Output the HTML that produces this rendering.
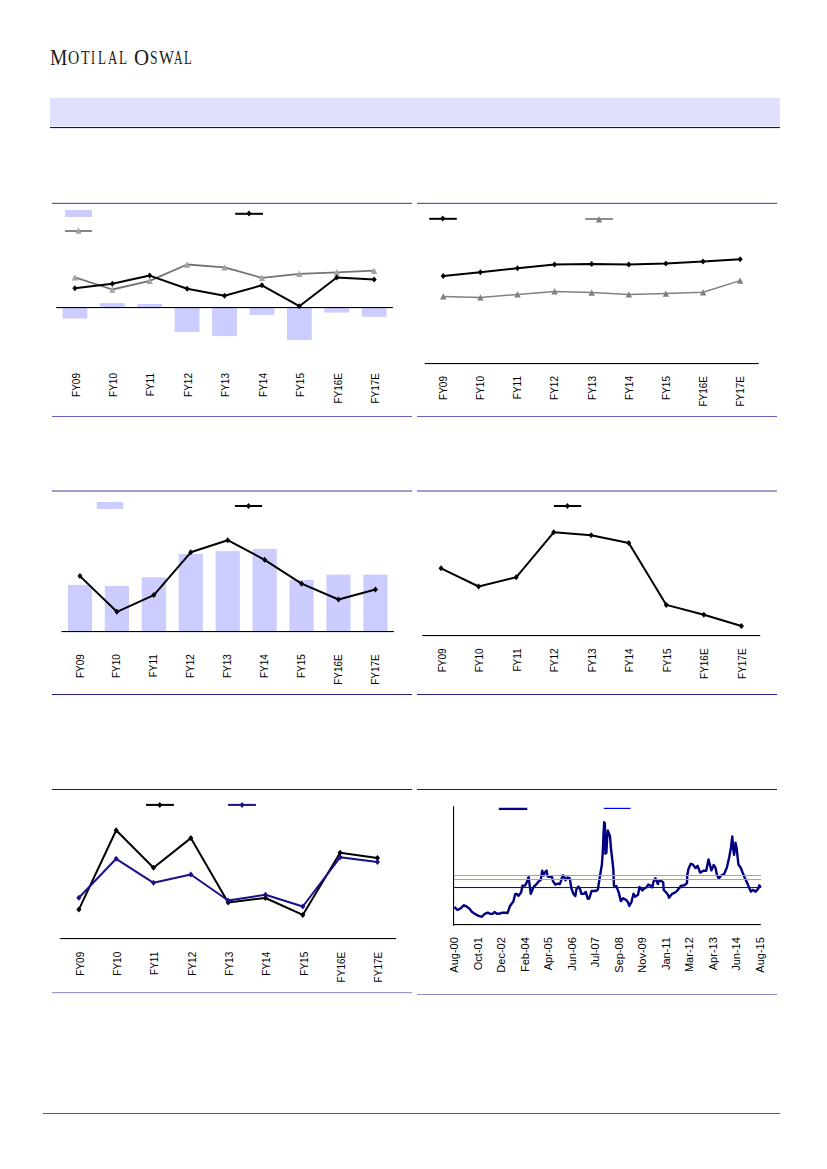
<!DOCTYPE html>
<html><head><meta charset="utf-8"><title>Motilal Oswal</title>
<style>
html,body{margin:0;padding:0;background:#fff;}
body{width:827px;height:1169px;position:relative;overflow:hidden;font-family:"Liberation Sans",sans-serif;}
.logo{position:absolute;left:0;top:47px;font-family:"Liberation Serif",serif;color:#1a1a1a;white-space:nowrap;line-height:1;font-kerning:none;}
.logo span{position:absolute;top:0;transform-origin:0 0;}
svg{position:absolute;left:0;top:0;}
svg text{font-family:"Liberation Sans",sans-serif;}
</style></head>
<body>
<div class="logo"><span style="left:49.60px;font-size:22.5px;transform:scaleX(0.863)">M</span><span style="left:68.20px;top:3.4px;font-size:17.8px;transform:scaleX(0.875)">O</span><span style="left:81.00px;top:3.4px;font-size:17.8px;transform:scaleX(0.791)">T</span><span style="left:90.80px;top:3.4px;font-size:17.8px;transform:scaleX(0.680)">I</span><span style="left:98.20px;top:3.4px;font-size:17.8px;transform:scaleX(0.740)">L</span><span style="left:107.80px;top:3.4px;font-size:17.8px;transform:scaleX(0.725)">A</span><span style="left:118.60px;top:3.4px;font-size:17.8px;transform:scaleX(0.740)">L</span><span style="left:133.80px;font-size:22.5px;transform:scaleX(0.927)">O</span><span style="left:150.20px;top:3.4px;font-size:17.8px;transform:scaleX(0.762)">S</span><span style="left:158.60px;top:3.4px;font-size:17.8px;transform:scaleX(0.894)">W</span><span style="left:173.80px;top:3.4px;font-size:17.8px;transform:scaleX(0.654)">A</span><span style="left:184.20px;top:3.4px;font-size:17.8px;transform:scaleX(0.720)">L</span></div>
<svg width="827" height="1169" viewBox="0 0 827 1169">
<rect x="50" y="98" width="730" height="28" fill="#dfdffe"/>
<rect x="50" y="126" width="730" height="1" fill="#f3f3ff"/>
<rect x="50" y="127" width="730" height="1.1" fill="#170b82"/>
<rect x="52" y="202.8" width="360" height="1.2" fill="#5f50af"/>
<rect x="417" y="202.8" width="360" height="1.2" fill="#5f50af"/>
<rect x="52" y="416" width="360" height="1" fill="#6c5db8"/>
<rect x="417" y="416" width="360" height="1" fill="#6c5db8"/>
<rect x="52" y="490" width="360" height="2" fill="#a59bcf"/>
<rect x="417" y="490" width="360" height="2" fill="#a59bcf"/>
<rect x="52" y="694" width="360" height="1" fill="#2a1c8c"/>
<rect x="417" y="694" width="360" height="1" fill="#2a1c8c"/>
<rect x="52" y="789" width="360" height="1" fill="#1e1090"/>
<rect x="417" y="789" width="360" height="1" fill="#1e1090"/>
<rect x="52" y="992" width="360" height="1.2" fill="#9d94cc"/>
<rect x="417" y="994" width="360" height="1" fill="#958bc8"/>
<rect x="43" y="1113" width="737" height="1" fill="#4c4cc0"/>
<rect x="62.5" y="307.3" width="24.8" height="11.3" fill="#ccccff"/>
<rect x="99.91" y="303" width="24.8" height="4.3" fill="#ccccff"/>
<rect x="137.31" y="304" width="24.8" height="3.3" fill="#ccccff"/>
<rect x="174.72" y="307.3" width="24.8" height="24.7" fill="#ccccff"/>
<rect x="212.13" y="307.3" width="24.8" height="28.8" fill="#ccccff"/>
<rect x="249.53" y="307.3" width="24.8" height="7.7" fill="#ccccff"/>
<rect x="286.94" y="307.3" width="24.8" height="32.7" fill="#ccccff"/>
<rect x="324.34" y="307.3" width="24.8" height="5.3" fill="#ccccff"/>
<rect x="361.75" y="307.3" width="24.8" height="9.5" fill="#ccccff"/>
<rect x="56.2" y="307" width="336.65" height="1.1" fill="#000"/>
<polyline points="74.9,277.4 112.31,289.5 149.71,280.8 187.12,264.5 224.53,267.4 261.93,277.8 299.34,273.8 336.74,272.3 374.15,270.7" fill="none" stroke="#737373" stroke-width="1.8" stroke-linejoin="round"/>
<path d="M74.9 274.2L78.1 280.6L71.7 280.6Z" fill="#a3a3a3"/>
<path d="M112.31 286.3L115.51 292.7L109.11 292.7Z" fill="#a3a3a3"/>
<path d="M149.71 277.6L152.91 284L146.51 284Z" fill="#a3a3a3"/>
<path d="M187.12 261.3L190.32 267.7L183.92 267.7Z" fill="#a3a3a3"/>
<path d="M224.53 264.2L227.73 270.6L221.33 270.6Z" fill="#a3a3a3"/>
<path d="M261.93 274.6L265.13 281L258.73 281Z" fill="#a3a3a3"/>
<path d="M299.34 270.6L302.54 277L296.14 277Z" fill="#a3a3a3"/>
<path d="M336.74 269.1L339.94 275.5L333.54 275.5Z" fill="#a3a3a3"/>
<path d="M374.15 267.5L377.35 273.9L370.95 273.9Z" fill="#a3a3a3"/>
<polyline points="74.9,288.3 112.31,283.8 149.71,275.6 187.12,288.7 224.53,295.7 261.93,285.3 299.34,306.2 336.74,277.5 374.15,279.5" fill="none" stroke="#000" stroke-width="2" stroke-linejoin="round"/>
<path d="M74.9 285.3L77.45 288.3L74.9 291.3L72.35 288.3Z" fill="#000"/>
<path d="M112.31 280.8L114.86 283.8L112.31 286.8L109.76 283.8Z" fill="#000"/>
<path d="M149.71 272.6L152.26 275.6L149.71 278.6L147.16 275.6Z" fill="#000"/>
<path d="M187.12 285.7L189.67 288.7L187.12 291.7L184.57 288.7Z" fill="#000"/>
<path d="M224.53 292.7L227.08 295.7L224.53 298.7L221.98 295.7Z" fill="#000"/>
<path d="M261.93 282.3L264.48 285.3L261.93 288.3L259.38 285.3Z" fill="#000"/>
<path d="M299.34 303.2L301.89 306.2L299.34 309.2L296.79 306.2Z" fill="#000"/>
<path d="M336.74 274.5L339.29 277.5L336.74 280.5L334.19 277.5Z" fill="#000"/>
<path d="M374.15 276.5L376.7 279.5L374.15 282.5L371.6 279.5Z" fill="#000"/>
<rect x="65" y="210" width="27" height="7" fill="#ccccff"/>
<line x1="65" y1="231" x2="92" y2="231" stroke="#777" stroke-width="1.8"/>
<path d="M78.5 227.3L81.7 233.7L75.3 233.7Z" fill="#a3a3a3"/>
<line x1="235.2" y1="213.8" x2="263" y2="213.8" stroke="#000" stroke-width="2"/>
<path d="M249 210.4L251.55 213.4L249 216.4L246.45 213.4Z" fill="#000"/>
<text transform="translate(79.68 373) rotate(-90)" text-anchor="end" font-size="10" fill="#000">FY09</text>
<text transform="translate(117.09 373) rotate(-90)" text-anchor="end" font-size="10" fill="#000">FY10</text>
<text transform="translate(154.49 373) rotate(-90)" text-anchor="end" font-size="10" fill="#000">FY11</text>
<text transform="translate(191.9 373) rotate(-90)" text-anchor="end" font-size="10" fill="#000">FY12</text>
<text transform="translate(229.31 373) rotate(-90)" text-anchor="end" font-size="10" fill="#000">FY13</text>
<text transform="translate(266.71 373) rotate(-90)" text-anchor="end" font-size="10" fill="#000">FY14</text>
<text transform="translate(304.12 373) rotate(-90)" text-anchor="end" font-size="10" fill="#000">FY15</text>
<text transform="translate(341.52 373) rotate(-90)" text-anchor="end" font-size="10" fill="#000">FY16E</text>
<text transform="translate(378.93 373) rotate(-90)" text-anchor="end" font-size="10" fill="#000">FY17E</text>
<rect x="424.7" y="363" width="334" height="1.1" fill="#000"/>
<polyline points="443.26,296.4 480.37,297.4 517.48,294.4 554.59,291.4 591.7,292.6 628.81,294.4 665.92,293.6 703.03,292.2 740.14,280.6" fill="none" stroke="#808080" stroke-width="1.5" stroke-linejoin="round"/>
<path d="M443.26 293.2L446.46 299.6L440.06 299.6Z" fill="#808080"/>
<path d="M480.37 294.2L483.57 300.6L477.17 300.6Z" fill="#808080"/>
<path d="M517.48 291.2L520.68 297.6L514.28 297.6Z" fill="#808080"/>
<path d="M554.59 288.2L557.79 294.6L551.39 294.6Z" fill="#808080"/>
<path d="M591.7 289.4L594.9 295.8L588.5 295.8Z" fill="#808080"/>
<path d="M628.81 291.2L632.01 297.6L625.61 297.6Z" fill="#808080"/>
<path d="M665.92 290.4L669.12 296.8L662.72 296.8Z" fill="#808080"/>
<path d="M703.03 289L706.23 295.4L699.83 295.4Z" fill="#808080"/>
<path d="M740.14 277.4L743.34 283.8L736.94 283.8Z" fill="#808080"/>
<polyline points="443.26,276.1 480.37,272.2 517.48,268.2 554.59,264.4 591.7,263.9 628.81,264.6 665.92,263.6 703.03,261.5 740.14,259.3" fill="none" stroke="#000" stroke-width="2" stroke-linejoin="round"/>
<path d="M443.26 273.1L445.81 276.1L443.26 279.1L440.71 276.1Z" fill="#000"/>
<path d="M480.37 269.2L482.92 272.2L480.37 275.2L477.82 272.2Z" fill="#000"/>
<path d="M517.48 265.2L520.03 268.2L517.48 271.2L514.93 268.2Z" fill="#000"/>
<path d="M554.59 261.4L557.14 264.4L554.59 267.4L552.04 264.4Z" fill="#000"/>
<path d="M591.7 260.9L594.25 263.9L591.7 266.9L589.15 263.9Z" fill="#000"/>
<path d="M628.81 261.6L631.36 264.6L628.81 267.6L626.26 264.6Z" fill="#000"/>
<path d="M665.92 260.6L668.47 263.6L665.92 266.6L663.37 263.6Z" fill="#000"/>
<path d="M703.03 258.5L705.58 261.5L703.03 264.5L700.48 261.5Z" fill="#000"/>
<path d="M740.14 256.3L742.69 259.3L740.14 262.3L737.59 259.3Z" fill="#000"/>
<line x1="429.2" y1="218.8" x2="456.8" y2="218.8" stroke="#000" stroke-width="2"/>
<path d="M442.7 215.6L445.25 218.6L442.7 221.6L440.15 218.6Z" fill="#000"/>
<line x1="585.2" y1="219" x2="613" y2="219" stroke="#808080" stroke-width="1.8"/>
<path d="M599 216.1L602.2 222.5L595.8 222.5Z" fill="#808080"/>
<text transform="translate(447.14 376) rotate(-90)" text-anchor="end" font-size="10" fill="#000">FY09</text>
<text transform="translate(484.25 376) rotate(-90)" text-anchor="end" font-size="10" fill="#000">FY10</text>
<text transform="translate(521.36 376) rotate(-90)" text-anchor="end" font-size="10" fill="#000">FY11</text>
<text transform="translate(558.47 376) rotate(-90)" text-anchor="end" font-size="10" fill="#000">FY12</text>
<text transform="translate(595.58 376) rotate(-90)" text-anchor="end" font-size="10" fill="#000">FY13</text>
<text transform="translate(632.69 376) rotate(-90)" text-anchor="end" font-size="10" fill="#000">FY14</text>
<text transform="translate(669.8 376) rotate(-90)" text-anchor="end" font-size="10" fill="#000">FY15</text>
<text transform="translate(706.91 376) rotate(-90)" text-anchor="end" font-size="10" fill="#000">FY16E</text>
<text transform="translate(744.02 376) rotate(-90)" text-anchor="end" font-size="10" fill="#000">FY17E</text>
<rect x="67.87" y="584.9" width="24.2" height="46.7" fill="#ccccff"/>
<rect x="104.8" y="585.9" width="24.2" height="45.7" fill="#ccccff"/>
<rect x="141.73" y="577.2" width="24.2" height="54.4" fill="#ccccff"/>
<rect x="178.67" y="554" width="24.2" height="77.6" fill="#ccccff"/>
<rect x="215.6" y="551.1" width="24.2" height="80.5" fill="#ccccff"/>
<rect x="252.53" y="548.9" width="24.2" height="82.7" fill="#ccccff"/>
<rect x="289.47" y="580" width="24.2" height="51.6" fill="#ccccff"/>
<rect x="326.4" y="574.6" width="24.2" height="57" fill="#ccccff"/>
<rect x="363.33" y="574.6" width="24.2" height="57" fill="#ccccff"/>
<rect x="61.5" y="631" width="332.4" height="1.1" fill="#000"/>
<polyline points="79.97,576.1 116.9,611.8 153.83,595.1 190.77,552.3 227.7,540.2 264.63,559.8 301.57,583.7 338.5,599.5 375.43,589.5" fill="none" stroke="#000" stroke-width="2" stroke-linejoin="round"/>
<path d="M79.97 573.1L82.52 576.1L79.97 579.1L77.42 576.1Z" fill="#000"/>
<path d="M116.9 608.8L119.45 611.8L116.9 614.8L114.35 611.8Z" fill="#000"/>
<path d="M153.83 592.1L156.38 595.1L153.83 598.1L151.28 595.1Z" fill="#000"/>
<path d="M190.77 549.3L193.32 552.3L190.77 555.3L188.22 552.3Z" fill="#000"/>
<path d="M227.7 537.2L230.25 540.2L227.7 543.2L225.15 540.2Z" fill="#000"/>
<path d="M264.63 556.8L267.18 559.8L264.63 562.8L262.08 559.8Z" fill="#000"/>
<path d="M301.57 580.7L304.12 583.7L301.57 586.7L299.02 583.7Z" fill="#000"/>
<path d="M338.5 596.5L341.05 599.5L338.5 602.5L335.95 599.5Z" fill="#000"/>
<path d="M375.43 586.5L377.98 589.5L375.43 592.5L372.88 589.5Z" fill="#000"/>
<rect x="96.8" y="502" width="26.4" height="7" fill="#ccccff"/>
<line x1="234.9" y1="506" x2="262.1" y2="506" stroke="#000" stroke-width="2"/>
<path d="M248.5 503L251.05 506L248.5 509L245.95 506Z" fill="#000"/>
<text transform="translate(83.55 654.2) rotate(-90)" text-anchor="end" font-size="10" fill="#000">FY09</text>
<text transform="translate(120.48 654.2) rotate(-90)" text-anchor="end" font-size="10" fill="#000">FY10</text>
<text transform="translate(157.41 654.2) rotate(-90)" text-anchor="end" font-size="10" fill="#000">FY11</text>
<text transform="translate(194.35 654.2) rotate(-90)" text-anchor="end" font-size="10" fill="#000">FY12</text>
<text transform="translate(231.28 654.2) rotate(-90)" text-anchor="end" font-size="10" fill="#000">FY13</text>
<text transform="translate(268.21 654.2) rotate(-90)" text-anchor="end" font-size="10" fill="#000">FY14</text>
<text transform="translate(305.15 654.2) rotate(-90)" text-anchor="end" font-size="10" fill="#000">FY15</text>
<text transform="translate(342.08 654.2) rotate(-90)" text-anchor="end" font-size="10" fill="#000">FY16E</text>
<text transform="translate(379.01 654.2) rotate(-90)" text-anchor="end" font-size="10" fill="#000">FY17E</text>
<rect x="422.3" y="635" width="337.9" height="1.1" fill="#000"/>
<polyline points="441.07,568.3 478.62,586.5 516.16,577.3 553.71,532.3 591.25,535.2 628.79,542.9 666.34,604.9 703.88,614.7 741.43,626" fill="none" stroke="#000" stroke-width="2" stroke-linejoin="round"/>
<path d="M441.07 565.3L443.62 568.3L441.07 571.3L438.52 568.3Z" fill="#000"/>
<path d="M478.62 583.5L481.17 586.5L478.62 589.5L476.07 586.5Z" fill="#000"/>
<path d="M516.16 574.3L518.71 577.3L516.16 580.3L513.61 577.3Z" fill="#000"/>
<path d="M553.71 529.3L556.26 532.3L553.71 535.3L551.16 532.3Z" fill="#000"/>
<path d="M591.25 532.2L593.8 535.2L591.25 538.2L588.7 535.2Z" fill="#000"/>
<path d="M628.79 539.9L631.34 542.9L628.79 545.9L626.24 542.9Z" fill="#000"/>
<path d="M666.34 601.9L668.89 604.9L666.34 607.9L663.79 604.9Z" fill="#000"/>
<path d="M703.88 611.7L706.43 614.7L703.88 617.7L701.33 614.7Z" fill="#000"/>
<path d="M741.43 623L743.98 626L741.43 629L738.88 626Z" fill="#000"/>
<line x1="553.9" y1="506" x2="581.2" y2="506" stroke="#000" stroke-width="2"/>
<path d="M567.4 503L569.95 506L567.4 509L564.85 506Z" fill="#000"/>
<text transform="translate(445.65 648.4) rotate(-90)" text-anchor="end" font-size="10" fill="#000">FY09</text>
<text transform="translate(483.2 648.4) rotate(-90)" text-anchor="end" font-size="10" fill="#000">FY10</text>
<text transform="translate(520.74 648.4) rotate(-90)" text-anchor="end" font-size="10" fill="#000">FY11</text>
<text transform="translate(558.29 648.4) rotate(-90)" text-anchor="end" font-size="10" fill="#000">FY12</text>
<text transform="translate(595.83 648.4) rotate(-90)" text-anchor="end" font-size="10" fill="#000">FY13</text>
<text transform="translate(633.37 648.4) rotate(-90)" text-anchor="end" font-size="10" fill="#000">FY14</text>
<text transform="translate(670.92 648.4) rotate(-90)" text-anchor="end" font-size="10" fill="#000">FY15</text>
<text transform="translate(708.46 648.4) rotate(-90)" text-anchor="end" font-size="10" fill="#000">FY16E</text>
<text transform="translate(746.01 648.4) rotate(-90)" text-anchor="end" font-size="10" fill="#000">FY17E</text>
<rect x="60.2" y="938" width="335.9" height="1.1" fill="#000"/>
<polyline points="78.86,909.6 116.18,830.3 153.51,867.8 190.83,838.1 228.15,902.4 265.47,898 302.79,914.9 340.12,852.8 377.44,857.9" fill="none" stroke="#000" stroke-width="2" stroke-linejoin="round"/>
<path d="M78.86 906.6L81.41 909.6L78.86 912.6L76.31 909.6Z" fill="#000"/>
<path d="M116.18 827.3L118.73 830.3L116.18 833.3L113.63 830.3Z" fill="#000"/>
<path d="M153.51 864.8L156.06 867.8L153.51 870.8L150.96 867.8Z" fill="#000"/>
<path d="M190.83 835.1L193.38 838.1L190.83 841.1L188.28 838.1Z" fill="#000"/>
<path d="M228.15 899.4L230.7 902.4L228.15 905.4L225.6 902.4Z" fill="#000"/>
<path d="M265.47 895L268.02 898L265.47 901L262.92 898Z" fill="#000"/>
<path d="M302.79 911.9L305.34 914.9L302.79 917.9L300.24 914.9Z" fill="#000"/>
<path d="M340.12 849.8L342.67 852.8L340.12 855.8L337.57 852.8Z" fill="#000"/>
<path d="M377.44 854.9L379.99 857.9L377.44 860.9L374.89 857.9Z" fill="#000"/>
<polyline points="78.86,897.7 116.18,858.8 153.51,882.8 190.83,874.5 228.15,900.5 265.47,894.8 302.79,906.5 340.12,857.3 377.44,861.9" fill="none" stroke="#1a1088" stroke-width="2" stroke-linejoin="round"/>
<path d="M78.86 894.7L81.41 897.7L78.86 900.7L76.31 897.7Z" fill="#1a1088"/>
<path d="M116.18 855.8L118.73 858.8L116.18 861.8L113.63 858.8Z" fill="#1a1088"/>
<path d="M153.51 879.8L156.06 882.8L153.51 885.8L150.96 882.8Z" fill="#1a1088"/>
<path d="M190.83 871.5L193.38 874.5L190.83 877.5L188.28 874.5Z" fill="#1a1088"/>
<path d="M228.15 897.5L230.7 900.5L228.15 903.5L225.6 900.5Z" fill="#1a1088"/>
<path d="M265.47 891.8L268.02 894.8L265.47 897.8L262.92 894.8Z" fill="#1a1088"/>
<path d="M302.79 903.5L305.34 906.5L302.79 909.5L300.24 906.5Z" fill="#1a1088"/>
<path d="M340.12 854.3L342.67 857.3L340.12 860.3L337.57 857.3Z" fill="#1a1088"/>
<path d="M377.44 858.9L379.99 861.9L377.44 864.9L374.89 861.9Z" fill="#1a1088"/>
<line x1="146" y1="804.9" x2="173.9" y2="804.9" stroke="#000" stroke-width="2"/>
<path d="M159.8 801.9L162.35 804.9L159.8 807.9L157.25 804.9Z" fill="#000"/>
<line x1="228" y1="804.9" x2="255.9" y2="804.9" stroke="#1a1088" stroke-width="2"/>
<path d="M242.1 801.9L244.65 804.9L242.1 807.9L239.55 804.9Z" fill="#1a1088"/>
<text transform="translate(83.64 951.8) rotate(-90)" text-anchor="end" font-size="10" fill="#000">FY09</text>
<text transform="translate(120.96 951.8) rotate(-90)" text-anchor="end" font-size="10" fill="#000">FY10</text>
<text transform="translate(158.29 951.8) rotate(-90)" text-anchor="end" font-size="10" fill="#000">FY11</text>
<text transform="translate(195.61 951.8) rotate(-90)" text-anchor="end" font-size="10" fill="#000">FY12</text>
<text transform="translate(232.93 951.8) rotate(-90)" text-anchor="end" font-size="10" fill="#000">FY13</text>
<text transform="translate(270.25 951.8) rotate(-90)" text-anchor="end" font-size="10" fill="#000">FY14</text>
<text transform="translate(307.57 951.8) rotate(-90)" text-anchor="end" font-size="10" fill="#000">FY15</text>
<text transform="translate(344.9 951.8) rotate(-90)" text-anchor="end" font-size="10" fill="#000">FY16E</text>
<text transform="translate(382.22 951.8) rotate(-90)" text-anchor="end" font-size="10" fill="#000">FY17E</text>
<rect x="453" y="806.3" width="1.1" height="119.5" fill="#000"/>
<rect x="453" y="924" width="307.8" height="1.1" fill="#000"/>
<polyline points="454.3,906.9 457.3,910 460.6,908.4 464,905.2 466.4,906.4 469.3,908.4 471.8,911.8 474.7,913.7 478,915.6 481.9,916.8 484.3,914.2 487.7,912.7 490.6,913.9 492.6,913.9 494.5,912 496.9,913.7 500.3,913.5 502.2,912.7 506.1,912.7 507.5,913.2 510,905.9 513.3,901.6 515.3,893.9 516.7,893.9 518.5,895.8 521.1,892.4 522.5,885.6 525,885.6 526.8,882.2 528.6,877.2 530.8,893.8 533.5,887.1 536.4,884.2 538.9,881.3 540.8,879.8 542.2,870.6 543.7,875.5 544.7,872.6 546.6,870.6 547.6,876.4 549,876.9 551.9,876.9 552.9,880.8 555.3,884.7 557.7,883.7 559.7,884.2 560.6,882.2 562.6,875.5 563.5,875.5 565.5,880.3 567.4,877.4 569.8,878.4 571.3,888 573.2,893.4 575.3,896 576.6,888.5 578.5,886.6 580,889 581.4,893.8 583.8,893.8 585.8,891.9 587.7,898.7 589.1,898.7 591.6,891 594.5,891 596.9,890.5 597.9,889.5 598.9,882.7 600.3,874 601.8,865.3 602.7,853.7 603.5,834.3 604.2,822.3 604.9,823.7 605.4,853.7 606.4,852.7 607.1,839.2 607.8,830.5 608.5,832.4 610,836.3 611,848.8 612.4,860.5 613.4,870.1 613.9,884.6 614.3,887 616.3,886.1 618.7,892.4 620.9,901.1 623,898.2 625.9,899.9 627.9,902 629.3,905.9 631.3,902.5 633.5,893.8 635.1,896.7 638,894.8 639.5,887 642.4,890.4 644.3,888.5 646.3,887.5 648.2,884.6 650.6,885.6 652.3,887.3 653.5,881.7 655.4,878.3 656.9,881.7 657.9,884.1 658.8,880.8 660.8,880.8 663.2,882.2 663.7,890 666.1,892.4 668,894.8 669,897.7 672.4,893.6 674.6,892.8 676.9,891.1 680.9,885.9 684.4,885.3 687,883 687.2,875.5 688.4,869.2 690.7,863.8 693,864.6 695.5,868.1 697.6,865.8 700.1,872.7 703.3,870.7 706.2,870.7 708.5,859.5 711.4,870.4 713.7,865 715.4,867.5 717.1,875.5 718.8,878.4 721.1,875.5 724,874.2 726.9,867.5 729.2,857.2 730.9,848 732.3,836.5 733.2,849.1 734.1,854.9 735.5,842.8 736.6,848 738.4,864.6 740.6,867.5 742.9,873.2 744.7,877.8 747,882.4 749.3,888.2 751,891.6 752.7,889.9 755.6,891.6 758.5,888.2 759.4,885.3 760.6,887.6" fill="none" stroke="#000080" stroke-width="2.4" stroke-linejoin="round"/>
<rect x="454" y="875" width="307" height="1.05" fill="#99cc00"/>
<rect x="454" y="879" width="307" height="1.05" fill="#ff9900"/>
<rect x="454" y="887" width="307" height="1.05" fill="#0000ff"/>
<line x1="498.8" y1="808.9" x2="527.3" y2="808.9" stroke="#000080" stroke-width="2.3"/>
<line x1="603.8" y1="808.4" x2="630.6" y2="808.4" stroke="#0000ff" stroke-width="1.2"/>
<text transform="translate(458.44 937.2) rotate(-90)" text-anchor="end" font-size="11" fill="#000">Aug-00</text>
<text transform="translate(481.94 937.2) rotate(-90)" text-anchor="end" font-size="11" fill="#000">Oct-01</text>
<text transform="translate(505.44 937.2) rotate(-90)" text-anchor="end" font-size="11" fill="#000">Dec-02</text>
<text transform="translate(528.94 937.2) rotate(-90)" text-anchor="end" font-size="11" fill="#000">Feb-04</text>
<text transform="translate(552.44 937.2) rotate(-90)" text-anchor="end" font-size="11" fill="#000">Apr-05</text>
<text transform="translate(575.94 937.2) rotate(-90)" text-anchor="end" font-size="11" fill="#000">Jun-06</text>
<text transform="translate(599.44 937.2) rotate(-90)" text-anchor="end" font-size="11" fill="#000">Jul-07</text>
<text transform="translate(622.94 937.2) rotate(-90)" text-anchor="end" font-size="11" fill="#000">Sep-08</text>
<text transform="translate(646.44 937.2) rotate(-90)" text-anchor="end" font-size="11" fill="#000">Nov-09</text>
<text transform="translate(669.94 937.2) rotate(-90)" text-anchor="end" font-size="11" fill="#000">Jan-11</text>
<text transform="translate(693.44 937.2) rotate(-90)" text-anchor="end" font-size="11" fill="#000">Mar-12</text>
<text transform="translate(716.94 937.2) rotate(-90)" text-anchor="end" font-size="11" fill="#000">Apr-13</text>
<text transform="translate(740.44 937.2) rotate(-90)" text-anchor="end" font-size="11" fill="#000">Jun-14</text>
<text transform="translate(763.94 937.2) rotate(-90)" text-anchor="end" font-size="11" fill="#000">Aug-15</text>
</svg>
</body></html>
